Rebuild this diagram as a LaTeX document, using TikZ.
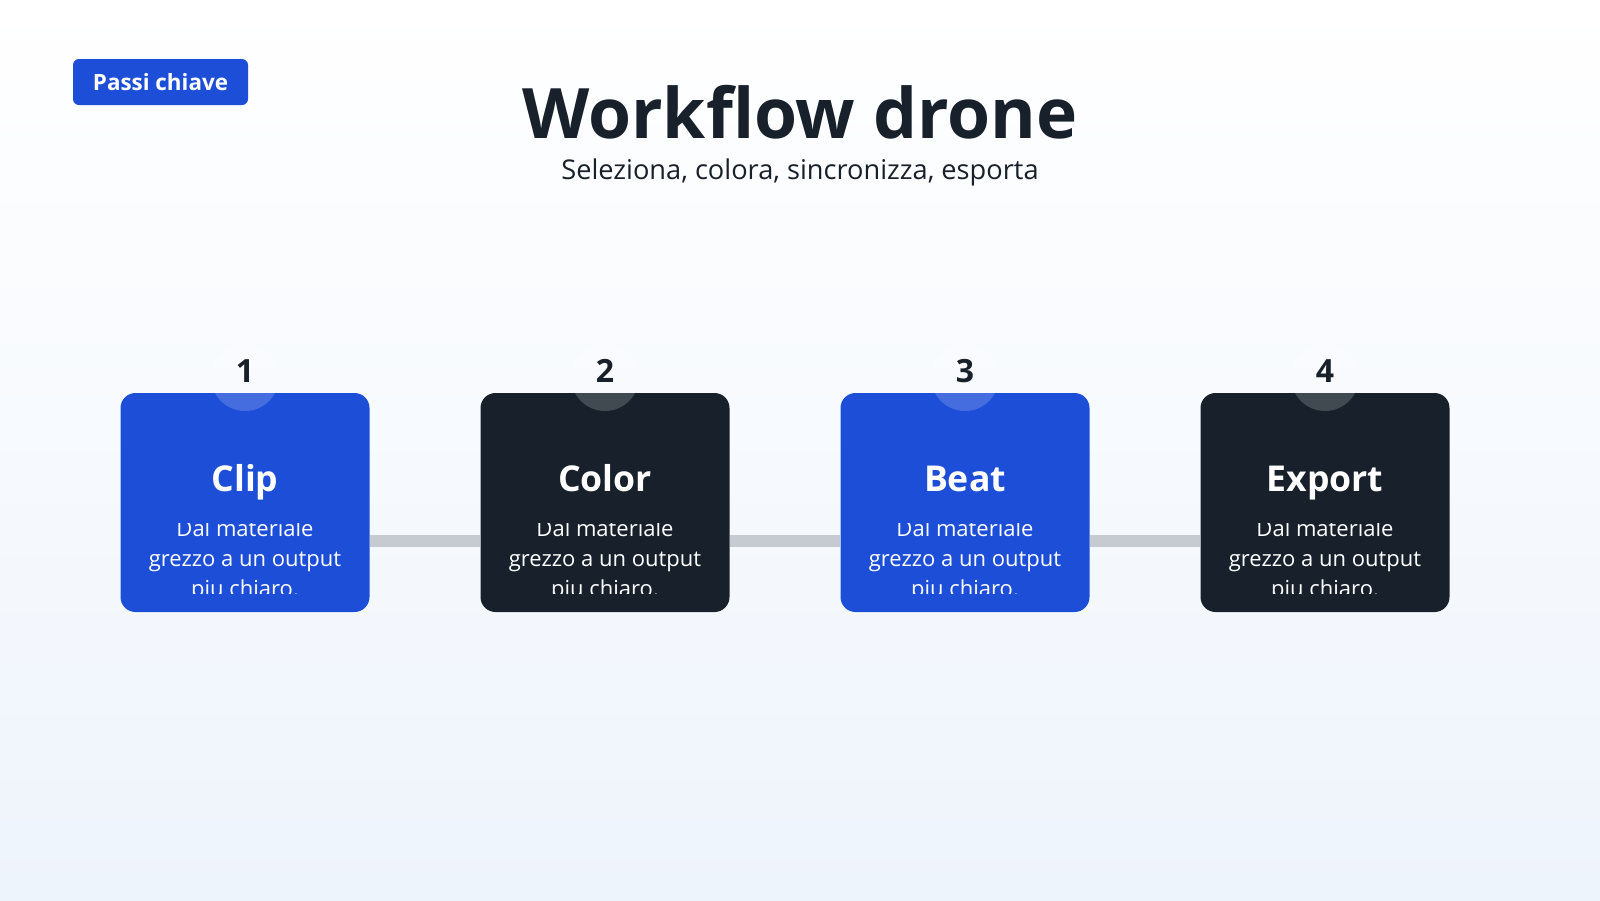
\documentclass[tikz,border=0pt]{standalone}
\usepackage{fontspec}
\setmainfont{Open Sans}
\usepackage{tikz}
\usetikzlibrary{positioning,calc}

\definecolor{stepblue}{HTML}{1D4ED8}
\definecolor{stepdark}{HTML}{18212B}
\definecolor{ink}{HTML}{17202B}
\definecolor{linkgray}{HTML}{C6CAD1}
\definecolor{bgbottom}{HTML}{EEF4FC}

\begin{document}
\begin{tikzpicture}[x=0.5pt, y=-0.5pt,
	card/.style={rounded corners=7.5pt, minimum width=124.5pt, minimum height=109.5pt, inner sep=0pt},
	badge/.style={fill=stepblue, rounded corners=3pt, minimum width=87.5pt, minimum height=23pt, text=white, font=\fontsize{11.2}{13}\selectfont\bfseries},
	link/.style={draw=linkgray, line width=6pt},
	num/.style={text=ink, font=\fontsize{16}{18}\selectfont\bfseries},
	numdisc/.style={circle, fill=white, fill opacity=0.18, minimum size=34pt, inner sep=0pt},
	cardtitle/.style={text=white, font=\fontsize{17.8}{20}\selectfont\bfseries},
	cardtext/.style={text=white, align=center, font=\fontsize{11}{15}\selectfont}]
	\useasboundingbox (0,0) rectangle (1600,900);
	\shade[top color=white, bottom color=bgbottom] (0,0) rectangle (1600,900);

	% header
	\node (tag) [badge] at (160.5,82) {Passi chiave};
	\node (title) [text=ink, font=\fontsize{34.8}{38}\selectfont\bfseries, anchor=base] at (800,138) {Workflow drone};
	\node (sub) [text=ink, font=\fontsize{13.6}{16}\selectfont, anchor=base] at (800,179) {Seleziona, colora, sincronizza, esporta};

	% steps
	\foreach \i/\name/\col in {1/Clip/stepblue, 2/Color/stepdark, 3/Beat/stepblue, 4/Export/stepdark} {
		\node (card\i) [card, fill=\col] at (245+360*\i-360, 502.5) {};
		\node (disc\i) [numdisc] at (245+360*\i-360, 377) {};
		\node (num\i) [num] at (disc\i.center |- 0,371) {\i};
		\node (head\i) [cardtitle, anchor=base] at (card\i.center |- 0,491) {\name};
		\begin{scope}
			\clip ($(card\i.west |- 0,523)$) rectangle ($(card\i.east |- 0,593)$);
			\node (txt\i) [cardtext, anchor=base] at (card\i.center |- 0,596) {Dal materiale\\grezzo a un output\\piu chiaro.};
		\end{scope}
	}

	% links
	\foreach \a/\b in {1/2, 2/3, 3/4}
		\draw [link] ([yshift=-19pt]card\a.east) -- ([yshift=-19pt]card\b.west);
\end{tikzpicture}
\end{document}
